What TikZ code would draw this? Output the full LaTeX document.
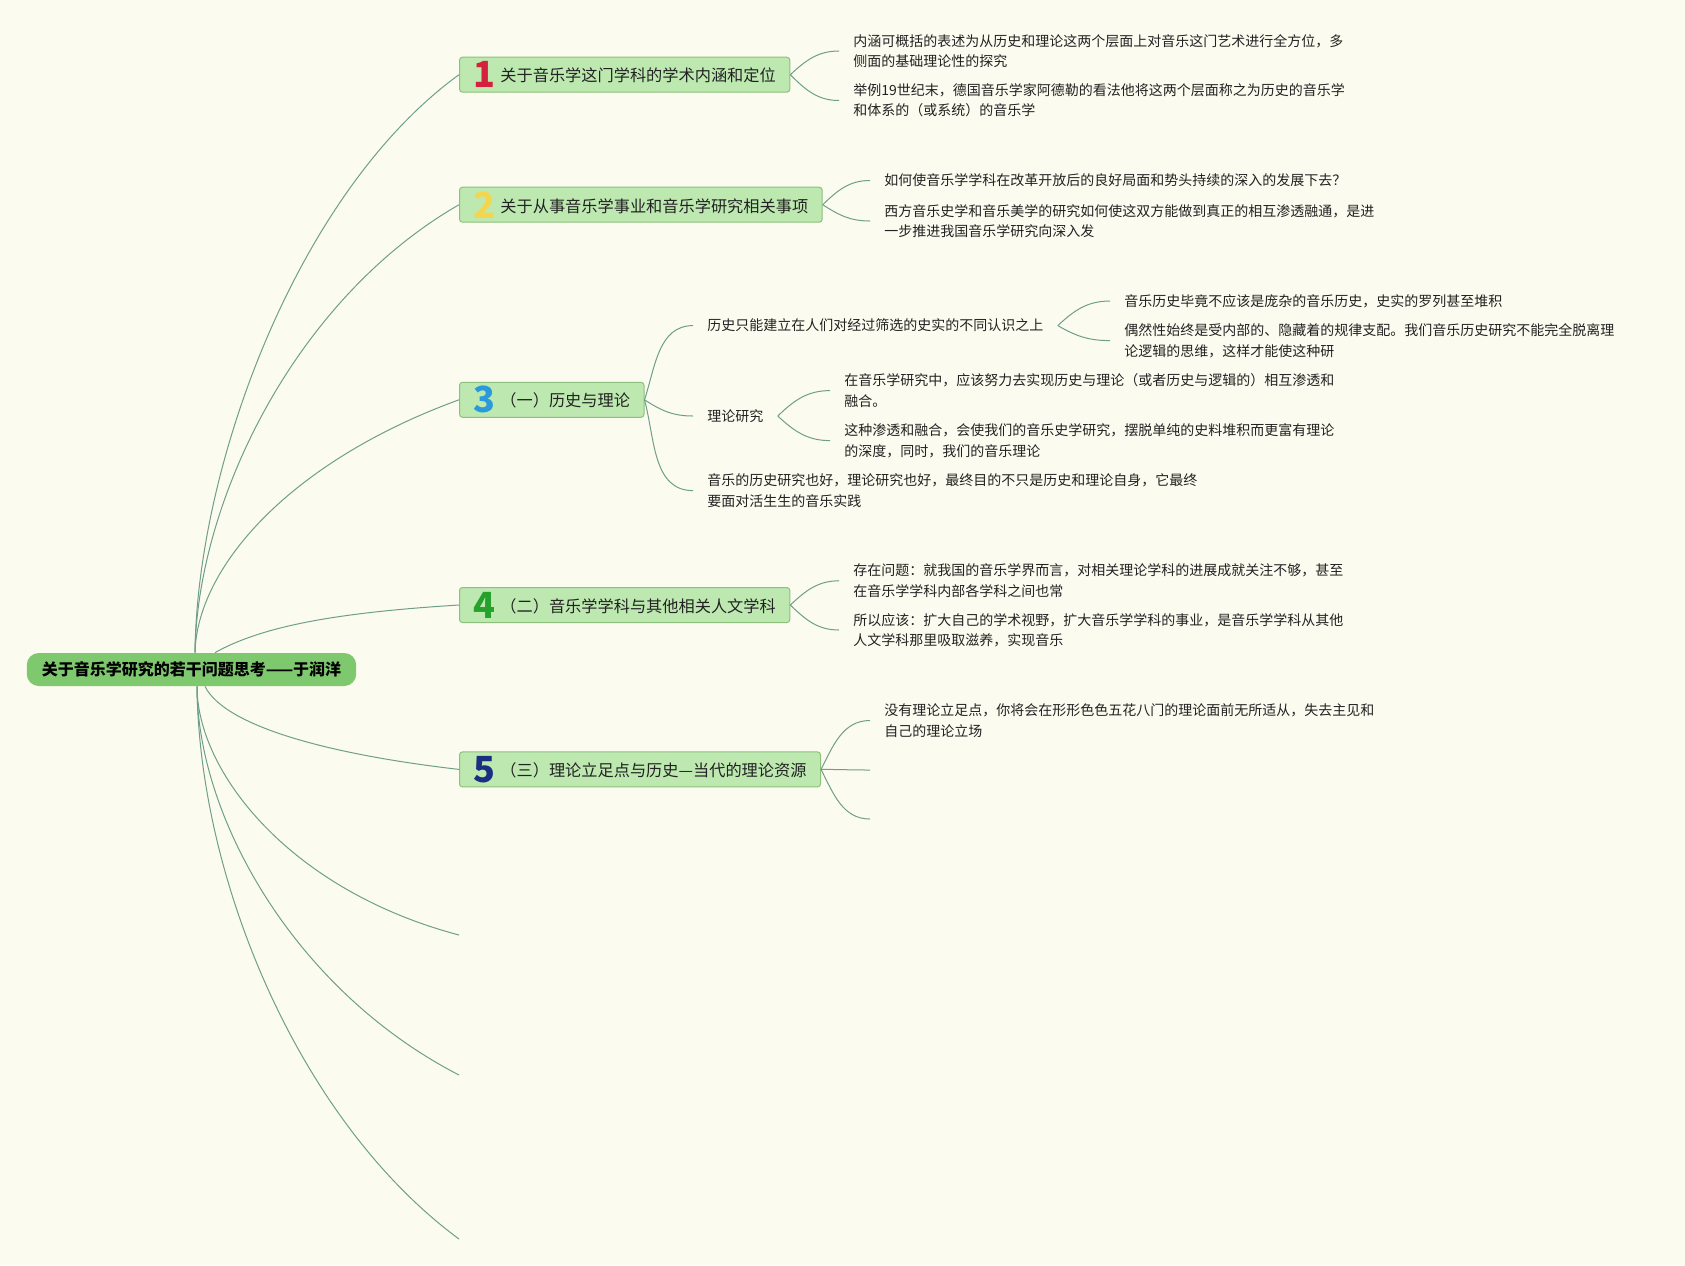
\documentclass[tikz,border=0pt]{standalone}
\usepackage{fontspec}
\usetikzlibrary{positioning,calc}
\newfontfamily\cjk{Noto Sans CJK SC}
\definecolor{mapbg}{HTML}{FCFBEF}
\definecolor{maproot}{HTML}{7EC86E}
\definecolor{maptopic}{HTML}{BDE9B1}
\definecolor{mapedge}{HTML}{8CC07C}
\definecolor{mapline}{HTML}{6E9F8A}
\definecolor{maptext}{HTML}{222222}
\definecolor{mapred}{HTML}{D4213D}
\definecolor{mapyellow}{HTML}{F4D64E}
\definecolor{mapblue}{HTML}{2A9ADA}
\definecolor{mapgreen}{HTML}{26A12B}
\definecolor{mapnavy}{HTML}{1B2F82}
\newcommand\topicnum[2]{\raisebox{-3pt}{\textcolor{#1}{\fontsize{18}{18}\selectfont\bfseries #2}}\hspace{2.5pt}}

\begin{document}
\begin{tikzpicture}[x=0.5pt,y=-0.5pt,
  root/.style={fill=maproot,rounded corners=6pt,inner xsep=7.5pt,inner ysep=0pt,minimum height=16.5pt,font=\cjk\bfseries\fontsize{8}{10}\selectfont,text=black},
  topic/.style={draw=mapedge,fill=maptopic,rounded corners=1.5pt,line width=0.5pt,anchor=west,inner xsep=7pt,inner ysep=0pt,minimum height=17.5pt,font=\cjk\fontsize{8.1}{10}\selectfont,text=maptext},
  leaf/.style={anchor=west,inner xsep=7pt,inner ysep=1pt,align=left,font=\cjk\fontsize{7}{10.2}\selectfont,text=maptext},
  link/.style={draw=mapline,line width=0.5pt},
  fork/.style={link,in=180}
]
\fill[mapbg] (0,0) rectangle (1685,1265);
\useasboundingbox (0,0) rectangle (1685,1265);

\node[root] (root) at (191.5,669.5) {关于音乐学研究的若干问题思考——于润洋};

\node[topic] (t1) at (459,74.7) {\topicnum{mapred}{1}关于音乐学这门学科的学术内涵和定位};
\node[topic] (t2) at (459,204.7) {\topicnum{mapyellow}{2}关于从事音乐学事业和音乐学研究相关事项};
\node[topic] (t3) at (459,399.8) {\topicnum{mapblue}{3}（一）历史与理论};
\node[topic] (t4) at (459,605) {\topicnum{mapgreen}{4}（二）音乐学学科与其他相关人文学科};
\node[topic] (t5) at (459,769.4) {\topicnum{mapnavy}{5}（三）理论立足点与历史—当代的理论资源};
\coordinate (e1) at (459,935);
\coordinate (e2) at (459,1075);
\coordinate (e3) at (459,1239);

\node[leaf] (c11) at (839,51) {内涵可概括的表述为从历史和理论这两个层面上对音乐这门艺术进行全方位，多\\侧面的基础理论性的探究};
\node[leaf] (c12) at (839,100.5) {举例19世纪末，德国音乐学家阿德勒的看法他将这两个层面称之为历史的音乐学\\和体系的（或系统）的音乐学};
\node[leaf] (c21) at (870,180.5) {如何使音乐学学科在改革开放后的良好局面和势头持续的深入的发展下去？};
\node[leaf] (c22) at (870,221) {西方音乐史学和音乐美学的研究如何使这双方能做到真正的相互渗透融通，是进\\一步推进我国音乐学研究向深入发};
\node[leaf] (c31) at (693,325.6) {历史只能建立在人们对经过筛选的史实的不同认识之上};
\node[leaf] (c311) at (1110,301) {音乐历史毕竟不应该是庞杂的音乐历史，史实的罗列甚至堆积};
\node[leaf] (c312) at (1110,340.6) {偶然性始终是受内部的、隐藏着的规律支配。我们音乐历史研究不能完全脱离理\\论逻辑的思维，这样才能使这种研};
\node[leaf] (c32) at (693,416) {理论研究};
\node[leaf] (c321) at (830,390.6) {在音乐学研究中，应该努力去实现历史与理论（或者历史与逻辑的）相互渗透和\\融合。};
\node[leaf] (c322) at (830,440.6) {这种渗透和融合，会使我们的音乐史学研究，摆脱单纯的史料堆积而更富有理论\\的深度，同时，我们的音乐理论};
\node[leaf] (c33) at (693,490.6) {音乐的历史研究也好，理论研究也好，最终目的不只是历史和理论自身，它最终\\要面对活生生的音乐实践};
\node[leaf] (c41) at (839,580.8) {存在问题：就我国的音乐学界而言，对相关理论学科的进展成就关注不够，甚至\\在音乐学学科内部各学科之间也常};
\node[leaf] (c42) at (839,630) {所以应该：扩大自己的学术视野，扩大音乐学学科的事业，是音乐学学科从其他\\人文学科那里吸取滋养，实现音乐};
\node[leaf] (c51) at (870,720.5) {没有理论立足点，你将会在形形色色五花八门的理论面前无所适从，失去主见和\\自己的理论立场};
\coordinate (e51) at (870,770);
\coordinate (e52) at (870,819);

\coordinate (hubN) at ([xshift=1.75pt]root.north);
\coordinate (hubS) at ([xshift=2.75pt]root.south);
\draw[link] (hubN) .. controls +(2,-190) and +(-160,116) .. (t1.west);
\draw[link] (hubN) .. controls +(2,-150) and +(-165,95) .. (t2.west);
\draw[link] (hubN) .. controls +(2,-85) and +(-170,62) .. (t3.west);
\draw[link] ([xshift=11.75pt]root.north) .. controls +(45,-25) and +(-130,8) .. (t4.west);
\draw[link] ([xshift=6.75pt]root.south) .. controls +(20,40) and +(-130,-15) .. (t5.west);
\draw[link] (hubS) .. controls +(0,85) and +(-170,-45) .. (e1);
\draw[link] (hubS) .. controls +(0,130) and +(-165,-85) .. (e2);
\draw[link] (hubS) .. controls +(2,193) and +(-160,-118) .. (e3);

\draw (t1.east) edge[fork,out=43] (c11.west) edge[fork,out=-45] (c12.west);
\draw (t2.east) edge[fork,out=44] (c21.west) edge[fork,out=-33] (c22.west);
\draw (t3.east) edge[fork,out=72] (c31.west) edge[fork,out=-33] (c32.west) edge[fork,out=-75] (c33.west);
\draw (c31.east) edge[fork,out=43] (c311.west) edge[fork,out=-30] (c312.west);
\draw (c32.east) edge[fork,out=44] (c321.west) edge[fork,out=-43] (c322.west);
\draw (t4.east) edge[fork,out=43] (c41.west) edge[fork,out=-44] (c42.west);
\draw (t5.east) edge[fork,out=63] (c51.west) edge[fork,out=0] (e51) edge[fork,out=-63] (e52);
\end{tikzpicture}
\end{document}
